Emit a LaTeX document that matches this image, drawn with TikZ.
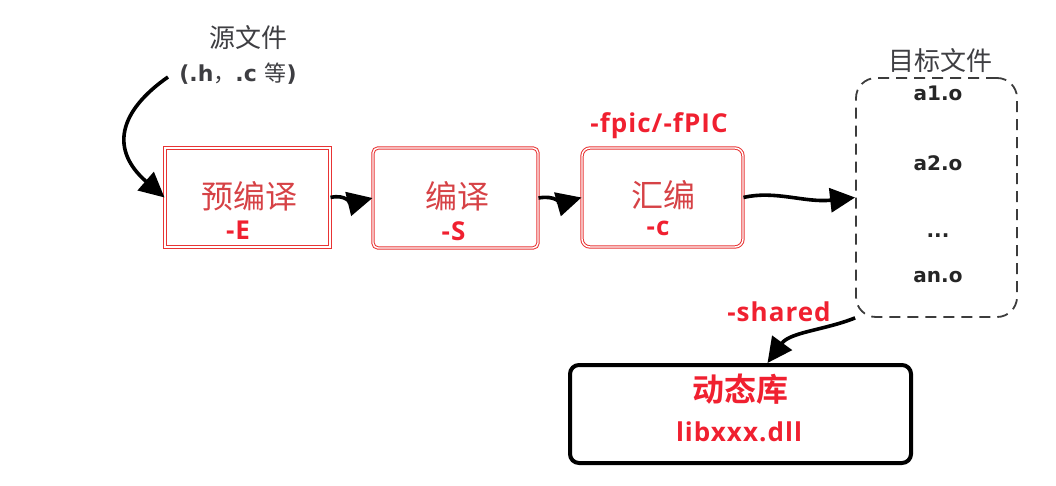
\documentclass[tikz,border=0pt]{standalone}
\usepackage{fontspec}
\setmainfont{Open Sans}
\newfontfamily\cjk{Noto Sans CJK SC}
\newfontfamily\cjkb{Noto Sans CJK SC Bold}
\newfontfamily\dvb{DejaVu Sans Bold}
\newfontfamily\redf[LetterSpace=4]{Open Sans Bold}
\usetikzlibrary{arrows.meta}
\definecolor{boxred}{RGB}{232,52,52}
\definecolor{txtred}{RGB}{214,66,70}
\definecolor{flagred}{RGB}{240,32,48}
\definecolor{graytxt}{RGB}{62,62,66}
\definecolor{dashgray}{RGB}{60,60,60}
\tikzset{
  proc/.style={draw=boxred, line width=1pt, double=white, double distance=1.4pt,
    minimum width=165pt, minimum height=99pt, inner sep=0pt},
  stagetxt/.style={text=txtred, font=\cjk\fontsize{32}{34}\selectfont, inner sep=0pt},
  flagtxt/.style={text=flagred, font=\redf\fontsize{26}{28}\selectfont, inner sep=0pt},
  graylbl/.style={text=graytxt, inner sep=0pt},
  objtxt/.style={text=black!85, font=\dvb\fontsize{20}{22}\selectfont, inner sep=0pt},
  flow/.style={line width=3.6pt, black, -{Triangle[length=25pt,width=24pt]}},
}
\begin{document}
\begin{tikzpicture}[x=1pt,y=-1pt]
\useasboundingbox (0,0) rectangle (1056,486);

% source label
\node[graylbl, font=\cjk\fontsize{26}{28}\selectfont] (srcA) at (248,38) {源文件};
\node[graylbl, font=\dvb\fontsize{22}{24}\selectfont] (srcB) at (238,74) {(.h{\cjk，}.c {\cjk 等})};
\coordinate (srcS) at (168,77);

% stage boxes
\node[proc] (pre) at (247.5,197.5) {};
\node[proc, rounded corners=5pt, minimum height=100pt] (cmp) at (455.5,198) {};
\node[proc, rounded corners=8pt, minimum width=161pt] (asm) at (662.5,197.5) {};

\node[stagetxt] (preT) at (249.5,196) {预编译};
\node[flagtxt] (preF) at (238,230) {-E};
\node[stagetxt] (cmpT) at (457,196) {编译};
\node[flagtxt] (cmpF) at (453.5,231) {-S};
\node[stagetxt] (asmT) at (663.5,195) {汇编};
\node[flagtxt] (asmF) at (658,228) {-c};
\node[flagtxt] (fpic) at (659,126) {-fpic/-fPIC};

% object files
\node[graylbl, font=\cjk\fontsize{26}{28}\selectfont] (objL) at (940,61) {目标文件};
\node[draw=dashgray, line width=1.8pt, dash pattern=on 11pt off 7pt, rounded corners=20pt,
  minimum width=161pt, minimum height=239pt, inner sep=0pt] (obj) at (936.5,197.5) {};
\node[objtxt] (o1) at (938,93) {a1.o};
\node[objtxt] (o2) at (938,163) {a2.o};
\node[objtxt] (o3) at (938,236) {...};
\node[objtxt] (on) at (938,277) {an.o};

% shared library
\node[flagtxt] (shr) at (779,312) {-shared};
\node[draw=black, line width=4pt, rounded corners=9pt, minimum width=341pt,
  minimum height=98pt, inner sep=0pt] (lib) at (740.5,414) {};
\node[text=flagred, font=\cjkb\fontsize{32}{34}\selectfont, inner sep=0pt] (libA) at (740.5,389) {动态库};
\node[flagtxt] (libB) at (739,432) {libxxx.dll};

% connectors
\draw[flow] (srcS) .. controls (118,112) and (110,150) .. (pre.west);
\draw[flow] (pre.east) .. controls (345,194) and (352,203) .. (cmp.west);
\draw[flow] (cmp.east) .. controls (555,195) and (562,203) .. (asm.west);
\draw[flow] (asm.east) .. controls (775,190) and (805,203) .. (obj.west);
\draw[flow] (obj.south west) .. controls (825,330) and (790,332) .. ([xshift=27pt]lib.north);
\end{tikzpicture}
\end{document}
